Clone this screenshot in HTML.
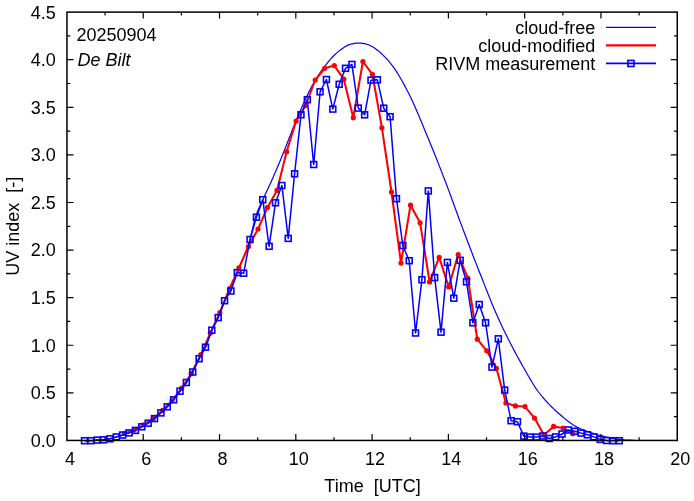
<!DOCTYPE html>
<html><head><meta charset="utf-8"><title>UV index</title>
<style>html,body{margin:0;padding:0;background:#fff}svg{display:block}text{font-family:"Liberation Sans",Arial,Helvetica,sans-serif;fill:#000}</style></head><body>
<svg width="694" height="501" viewBox="0 0 694 501">
<rect width="694" height="501" fill="#fff"/>
<g font-size="18" text-anchor="end">
<text x="55.9" y="446.85">0.0</text>
<text x="55.9" y="399.26">0.5</text>
<text x="55.9" y="351.66">1.0</text>
<text x="55.9" y="304.07">1.5</text>
<text x="55.9" y="256.47">2.0</text>
<text x="55.9" y="208.88">2.5</text>
<text x="55.9" y="161.28">3.0</text>
<text x="55.9" y="113.69">3.5</text>
<text x="55.9" y="66.09">4.0</text>
<text x="55.9" y="18.50">4.5</text>
</g>
<g font-size="18" text-anchor="middle">
<text x="69.95" y="465">4</text>
<text x="146.24" y="465">6</text>
<text x="222.52" y="465">8</text>
<text x="298.81" y="465">10</text>
<text x="375.10" y="465">12</text>
<text x="451.39" y="465">14</text>
<text x="527.67" y="465">16</text>
<text x="603.96" y="465">18</text>
<text x="680.25" y="465">20</text>
</g>
<text x="76.4" y="40.6" font-size="18">20250904</text>
<text x="77.4" y="65.6" font-size="18" font-style="italic">De Bilt</text>
<text x="372.5" y="491.7" font-size="18" text-anchor="middle" xml:space="preserve">Time  [UTC]</text>
<text transform="translate(18.6,226.2) rotate(-90)" font-size="18" text-anchor="middle" xml:space="preserve">UV index  [-]</text>
<g font-size="18" text-anchor="end">
<text x="595.3" y="33.7">cloud-free</text>
<text x="595.3" y="51.7">cloud-modified</text>
<text x="595.3" y="69.7">RIVM measurement</text>
</g>
<path d="M606 27.4H656" stroke="#0000ff" stroke-width="1.1" fill="none"/>
<path d="M606 45.4H656" stroke="#ff0000" stroke-width="2.1" fill="none"/>
<path d="M606 63.4H656" stroke="#0000ff" stroke-width="1.6" fill="none"/>
<rect x="627.9" y="60.4" width="6.1" height="6.1" stroke="#0000ff" stroke-width="1.6" fill="none"/>
<path d="M84.5 440.7 L86.5 440.7 L88.5 440.7 L90.5 440.7 L92.5 440.6 L94.5 440.4 L96.5 440.2 L98.5 440.0 L100.5 440.0 L102.5 439.9 L104.5 439.7 L106.5 439.5 L108.5 439.1 L110.5 438.7 L112.5 438.1 L114.5 437.5 L116.5 436.9 L118.5 436.3 L120.5 435.7 L122.5 435.1 L124.5 434.4 L126.5 433.8 L128.5 433.1 L130.5 432.4 L132.5 431.6 L134.5 430.8 L136.5 429.9 L138.5 428.8 L140.5 427.6 L142.5 426.4 L144.5 425.3 L146.5 424.2 L148.5 423.0 L150.5 421.6 L152.5 420.2 L154.5 418.6 L156.5 416.9 L158.5 415.1 L160.5 413.3 L162.5 411.4 L164.5 409.5 L166.5 407.6 L168.5 405.5 L170.5 403.4 L172.5 401.1 L174.5 398.7 L176.5 396.1 L178.5 393.3 L180.5 390.5 L182.5 387.9 L184.5 385.2 L186.5 382.3 L188.5 379.2 L190.5 375.9 L192.5 372.4 L194.5 368.5 L196.5 364.1 L198.5 359.9 L200.5 356.1 L202.5 352.8 L204.5 349.2 L206.5 344.8 L208.5 339.2 L210.5 333.5 L212.5 328.7 L214.5 324.8 L216.5 321.1 L218.5 316.9 L220.5 311.7 L222.5 306.2 L224.5 300.9 L226.5 296.2 L228.5 291.7 L230.5 287.5 L232.5 283.3 L234.5 279.0 L236.5 274.5 L238.5 269.8 L240.5 265.1 L242.5 260.3 L244.5 255.3 L246.5 250.0 L248.5 244.2 L250.5 237.7 L252.5 229.1 L254.5 220.3 L256.5 214.0 L258.5 209.1 L260.5 204.7 L262.5 200.4 L264.5 196.0 L266.5 191.7 L268.5 187.5 L270.5 183.2 L272.5 178.7 L274.5 174.1 L276.5 169.4 L278.5 164.7 L280.5 159.9 L282.5 155.0 L284.5 150.1 L286.5 145.0 L288.5 139.8 L290.5 134.6 L292.5 129.4 L294.5 124.4 L296.5 119.6 L298.5 114.9 L300.5 110.3 L302.5 105.7 L304.5 101.2 L306.5 96.9 L308.5 92.7 L310.5 88.7 L312.5 85.0 L314.5 81.6 L316.5 78.3 L318.5 75.2 L320.5 72.2 L322.5 69.4 L324.5 66.7 L326.5 64.1 L328.5 61.6 L330.5 59.2 L332.5 57.0 L334.5 55.0 L336.5 53.1 L338.5 51.4 L340.5 49.8 L342.5 48.4 L344.5 47.1 L346.5 45.9 L348.5 44.9 L350.5 44.2 L352.5 43.8 L354.5 43.4 L356.5 43.1 L358.5 43.0 L360.5 43.1 L362.5 43.3 L364.5 43.7 L366.5 44.2 L368.5 44.8 L370.5 45.7 L372.5 46.8 L374.5 48.0 L376.5 49.4 L378.5 50.9 L380.5 52.7 L382.5 54.6 L384.5 56.6 L386.5 58.7 L388.5 60.9 L390.5 63.3 L392.5 65.8 L394.5 68.6 L396.5 71.6 L398.5 74.8 L400.5 78.2 L402.5 81.7 L404.5 85.4 L406.5 89.2 L408.5 93.1 L410.5 97.1 L412.5 101.3 L414.5 105.7 L416.5 110.2 L418.5 114.9 L420.5 119.7 L422.5 124.5 L424.5 129.4 L426.5 134.2 L428.5 139.0 L430.5 143.9 L432.5 148.8 L434.5 153.8 L436.5 158.8 L438.5 163.9 L440.5 169.0 L442.5 174.1 L444.5 179.3 L446.5 184.5 L448.5 189.9 L450.5 195.3 L452.5 200.8 L454.5 206.2 L456.5 211.7 L458.5 217.2 L460.5 222.6 L462.5 227.9 L464.5 233.2 L466.5 238.5 L468.5 243.8 L470.5 249.0 L472.5 254.3 L474.5 259.5 L476.5 264.6 L478.5 269.7 L480.5 274.8 L482.5 279.8 L484.5 284.9 L486.5 290.0 L488.5 295.0 L490.5 300.0 L492.5 304.9 L494.5 309.7 L496.5 314.3 L498.5 318.8 L500.5 323.1 L502.5 327.4 L504.5 331.5 L506.5 335.6 L508.5 339.6 L510.5 343.5 L512.5 347.3 L514.5 351.1 L516.5 354.8 L518.5 358.5 L520.5 362.1 L522.5 365.7 L524.5 369.2 L526.5 372.7 L528.5 376.2 L530.5 379.6 L532.5 383.0 L534.5 386.2 L536.5 389.3 L538.5 392.0 L540.5 394.5 L542.5 397.0 L544.5 399.3 L546.5 401.5 L548.5 403.7 L550.5 405.8 L552.5 407.7 L554.5 409.7 L556.5 411.5 L558.5 413.3 L560.5 415.0 L562.5 416.7 L564.5 418.4 L566.5 420.0 L568.5 421.6 L570.5 423.1 L572.5 424.5 L574.5 425.7 L576.5 426.9 L578.5 427.9 L580.5 428.8 L582.5 429.6 L584.5 430.4 L586.5 431.1 L588.5 431.8 L590.5 432.5 L592.5 433.1 L594.5 433.8 L596.5 434.4 L598.5 435.0 L600.5 435.6 L602.5 436.1 L604.5 436.7 L606.5 437.2 L608.5 437.6 L610.5 438.1 L612.5 438.5 L614.5 438.9 L616.5 439.2 L618.5 439.4 L620.5 439.6 L622.5 439.7 L624.5 439.9 L626.5 440.0 L628.5 440.1 L630.5 440.2 L632.5 440.3 L634.5 440.3" stroke="#0000ff" stroke-width="1.2" fill="none" stroke-linejoin="round"/>
<path d="M124.5 433.4 L134.0 430.0 L143.5 424.8 L153.1 418.7 L162.6 410.3 L172.1 400.6 L181.7 388.0 L191.2 373.7 L200.8 354.7 L210.3 333.1 L219.8 312.6 L229.4 288.9 L238.9 267.8 L248.4 246.5 L258.0 229.0 L267.5 207.4 L277.0 190.4 L286.6 151.8 L296.1 121.0 L305.6 105.5 L315.2 80.0 L324.7 68.3 L334.3 65.6 L343.8 79.2 L353.3 117.7 L362.9 61.5 L372.4 74.3 L381.9 127.8 L391.5 192.0 L401.0 263.1 L410.5 205.2 L420.1 222.8 L429.6 281.9 L439.2 257.4 L448.7 286.9 L458.2 254.5 L467.8 278.2 L477.3 339.2 L486.8 350.8 L496.4 368.3 L505.9 403.0 L515.4 405.9 L525.0 406.6 L534.5 418.1 L544.0 434.9 L553.6 426.4 L563.1 428.1 L572.7 433.7" stroke="#ff0000" stroke-width="2.05" fill="none" stroke-linejoin="round"/>
<g fill="#ff0000"><circle cx="124.5" cy="433.4" r="2.6"/><circle cx="134.0" cy="430.0" r="2.6"/><circle cx="143.5" cy="424.8" r="2.6"/><circle cx="153.1" cy="418.7" r="2.6"/><circle cx="162.6" cy="410.3" r="2.6"/><circle cx="172.1" cy="400.6" r="2.6"/><circle cx="181.7" cy="388.0" r="2.6"/><circle cx="191.2" cy="373.7" r="2.6"/><circle cx="200.8" cy="354.7" r="2.6"/><circle cx="210.3" cy="333.1" r="2.6"/><circle cx="219.8" cy="312.6" r="2.6"/><circle cx="229.4" cy="288.9" r="2.6"/><circle cx="238.9" cy="267.8" r="2.6"/><circle cx="248.4" cy="246.5" r="2.6"/><circle cx="258.0" cy="229.0" r="2.6"/><circle cx="267.5" cy="207.4" r="2.6"/><circle cx="277.0" cy="190.4" r="2.6"/><circle cx="286.6" cy="151.8" r="2.6"/><circle cx="296.1" cy="121.0" r="2.6"/><circle cx="305.6" cy="105.5" r="2.6"/><circle cx="315.2" cy="80.0" r="2.6"/><circle cx="324.7" cy="68.3" r="2.6"/><circle cx="334.3" cy="65.6" r="2.6"/><circle cx="343.8" cy="79.2" r="2.6"/><circle cx="353.3" cy="117.7" r="2.6"/><circle cx="362.9" cy="61.5" r="2.6"/><circle cx="372.4" cy="74.3" r="2.6"/><circle cx="381.9" cy="127.8" r="2.6"/><circle cx="391.5" cy="192.0" r="2.6"/><circle cx="401.0" cy="263.1" r="2.6"/><circle cx="410.5" cy="205.2" r="2.6"/><circle cx="420.1" cy="222.8" r="2.6"/><circle cx="429.6" cy="281.9" r="2.6"/><circle cx="439.2" cy="257.4" r="2.6"/><circle cx="448.7" cy="286.9" r="2.6"/><circle cx="458.2" cy="254.5" r="2.6"/><circle cx="467.8" cy="278.2" r="2.6"/><circle cx="477.3" cy="339.2" r="2.6"/><circle cx="486.8" cy="350.8" r="2.6"/><circle cx="496.4" cy="368.3" r="2.6"/><circle cx="505.9" cy="403.0" r="2.6"/><circle cx="515.4" cy="405.9" r="2.6"/><circle cx="525.0" cy="406.6" r="2.6"/><circle cx="534.5" cy="418.1" r="2.6"/><circle cx="544.0" cy="434.9" r="2.6"/><circle cx="553.6" cy="426.4" r="2.6"/><circle cx="563.1" cy="428.1" r="2.6"/><circle cx="572.7" cy="433.7" r="2.6"/></g>
<path d="M84.5 440.7 L90.9 440.7 L97.2 440.1 L103.6 439.8 L110.0 438.8 L116.3 436.9 L122.7 435.0 L129.1 432.9 L135.4 430.4 L141.8 426.8 L148.2 423.2 L154.5 418.6 L160.9 412.9 L167.3 406.8 L173.6 399.8 L180.0 391.2 L186.4 382.5 L192.7 372.0 L199.1 358.7 L205.5 347.2 L211.8 330.2 L218.2 317.6 L224.6 300.7 L230.9 291.0 L237.3 272.6 L243.7 273.2 L250.0 239.5 L256.4 217.2 L262.8 199.7 L269.1 246.3 L275.5 202.8 L281.9 185.5 L288.2 238.4 L294.6 173.8 L301.0 114.8 L307.3 99.7 L313.7 164.5 L320.1 91.8 L326.4 79.5 L332.8 109.1 L339.2 84.3 L345.5 68.3 L351.9 64.4 L358.3 108.1 L364.6 114.8 L371.0 80.2 L377.4 79.8 L383.7 108.2 L390.1 116.7 L396.5 198.7 L402.8 245.5 L409.2 260.7 L415.6 333.0 L421.9 279.7 L428.3 190.9 L434.7 277.6 L441.0 332.2 L447.4 262.4 L453.8 298.2 L460.1 260.3 L466.5 281.8 L472.9 322.8 L479.2 304.5 L485.6 322.8 L492.0 367.1 L498.3 338.8 L504.7 390.1 L511.1 420.7 L517.4 421.7 L523.8 436.1 L530.2 437.1 L536.5 437.1 L542.9 436.0 L549.3 438.5 L555.6 436.9 L562.0 434.0 L568.4 430.0 L574.7 431.3 L581.1 433.1 L587.5 434.8 L593.8 436.9 L600.2 439.4 L606.6 440.5 L612.9 440.7 L619.3 440.7" stroke="#0000ff" stroke-width="1.5" fill="none" stroke-linejoin="round"/>
<g fill="none" stroke="#0000ff" stroke-width="1.6"><rect x="81.55" y="437.75" width="5.9" height="5.9"/><rect x="87.92" y="437.75" width="5.9" height="5.9"/><rect x="94.28" y="437.15" width="5.9" height="5.9"/><rect x="100.65" y="436.85" width="5.9" height="5.9"/><rect x="107.02" y="435.85" width="5.9" height="5.9"/><rect x="113.38" y="433.95" width="5.9" height="5.9"/><rect x="119.75" y="432.05" width="5.9" height="5.9"/><rect x="126.12" y="429.95" width="5.9" height="5.9"/><rect x="132.48" y="427.45" width="5.9" height="5.9"/><rect x="138.85" y="423.85" width="5.9" height="5.9"/><rect x="145.22" y="420.25" width="5.9" height="5.9"/><rect x="151.58" y="415.65" width="5.9" height="5.9"/><rect x="157.95" y="409.95" width="5.9" height="5.9"/><rect x="164.32" y="403.85" width="5.9" height="5.9"/><rect x="170.68" y="396.85" width="5.9" height="5.9"/><rect x="177.05" y="388.25" width="5.9" height="5.9"/><rect x="183.42" y="379.55" width="5.9" height="5.9"/><rect x="189.78" y="369.05" width="5.9" height="5.9"/><rect x="196.15" y="355.75" width="5.9" height="5.9"/><rect x="202.52" y="344.25" width="5.9" height="5.9"/><rect x="208.88" y="327.25" width="5.9" height="5.9"/><rect x="215.25" y="314.65" width="5.9" height="5.9"/><rect x="221.62" y="297.75" width="5.9" height="5.9"/><rect x="227.98" y="288.05" width="5.9" height="5.9"/><rect x="234.35" y="269.65" width="5.9" height="5.9"/><rect x="240.72" y="270.25" width="5.9" height="5.9"/><rect x="247.08" y="236.55" width="5.9" height="5.9"/><rect x="253.45" y="214.25" width="5.9" height="5.9"/><rect x="259.82" y="196.75" width="5.9" height="5.9"/><rect x="266.18" y="243.35" width="5.9" height="5.9"/><rect x="272.55" y="199.85" width="5.9" height="5.9"/><rect x="278.92" y="182.55" width="5.9" height="5.9"/><rect x="285.28" y="235.45" width="5.9" height="5.9"/><rect x="291.65" y="170.85" width="5.9" height="5.9"/><rect x="298.02" y="111.85" width="5.9" height="5.9"/><rect x="304.38" y="96.75" width="5.9" height="5.9"/><rect x="310.75" y="161.55" width="5.9" height="5.9"/><rect x="317.12" y="88.85" width="5.9" height="5.9"/><rect x="323.48" y="76.55" width="5.9" height="5.9"/><rect x="329.85" y="106.15" width="5.9" height="5.9"/><rect x="336.22" y="81.35" width="5.9" height="5.9"/><rect x="342.58" y="65.35" width="5.9" height="5.9"/><rect x="348.95" y="61.45" width="5.9" height="5.9"/><rect x="355.32" y="105.15" width="5.9" height="5.9"/><rect x="361.68" y="111.85" width="5.9" height="5.9"/><rect x="368.05" y="77.25" width="5.9" height="5.9"/><rect x="374.42" y="76.85" width="5.9" height="5.9"/><rect x="380.78" y="105.25" width="5.9" height="5.9"/><rect x="387.15" y="113.75" width="5.9" height="5.9"/><rect x="393.52" y="195.75" width="5.9" height="5.9"/><rect x="399.88" y="242.55" width="5.9" height="5.9"/><rect x="406.25" y="257.75" width="5.9" height="5.9"/><rect x="412.62" y="330.05" width="5.9" height="5.9"/><rect x="418.99" y="276.75" width="5.9" height="5.9"/><rect x="425.35" y="187.95" width="5.9" height="5.9"/><rect x="431.72" y="274.65" width="5.9" height="5.9"/><rect x="438.09" y="329.25" width="5.9" height="5.9"/><rect x="444.45" y="259.45" width="5.9" height="5.9"/><rect x="450.82" y="295.25" width="5.9" height="5.9"/><rect x="457.19" y="257.35" width="5.9" height="5.9"/><rect x="463.55" y="278.85" width="5.9" height="5.9"/><rect x="469.92" y="319.85" width="5.9" height="5.9"/><rect x="476.29" y="301.55" width="5.9" height="5.9"/><rect x="482.65" y="319.85" width="5.9" height="5.9"/><rect x="489.02" y="364.15" width="5.9" height="5.9"/><rect x="495.39" y="335.85" width="5.9" height="5.9"/><rect x="501.75" y="387.15" width="5.9" height="5.9"/><rect x="508.12" y="417.75" width="5.9" height="5.9"/><rect x="514.49" y="418.75" width="5.9" height="5.9"/><rect x="520.85" y="433.15" width="5.9" height="5.9"/><rect x="527.22" y="434.15" width="5.9" height="5.9"/><rect x="533.59" y="434.15" width="5.9" height="5.9"/><rect x="539.95" y="433.05" width="5.9" height="5.9"/><rect x="546.32" y="435.55" width="5.9" height="5.9"/><rect x="552.69" y="433.95" width="5.9" height="5.9"/><rect x="559.05" y="431.05" width="5.9" height="5.9"/><rect x="565.42" y="427.05" width="5.9" height="5.9"/><rect x="571.79" y="428.35" width="5.9" height="5.9"/><rect x="578.15" y="430.15" width="5.9" height="5.9"/><rect x="584.52" y="431.85" width="5.9" height="5.9"/><rect x="590.89" y="433.95" width="5.9" height="5.9"/><rect x="597.25" y="436.45" width="5.9" height="5.9"/><rect x="603.62" y="437.55" width="5.9" height="5.9"/><rect x="609.99" y="437.75" width="5.9" height="5.9"/><rect x="616.35" y="437.75" width="5.9" height="5.9"/></g>
<path d="M66.95 392.86h6.5M677.25 392.86h-6.5M66.95 345.26h6.5M677.25 345.26h-6.5M66.95 297.67h6.5M677.25 297.67h-6.5M66.95 250.07h6.5M677.25 250.07h-6.5M66.95 202.48h6.5M677.25 202.48h-6.5M66.95 154.88h6.5M677.25 154.88h-6.5M66.95 107.29h6.5M677.25 107.29h-6.5M66.95 59.69h6.5M677.25 59.69h-6.5M66.95 416.65h3.3M677.25 416.65h-3.3M66.95 369.06h3.3M677.25 369.06h-3.3M66.95 321.46h3.3M677.25 321.46h-3.3M66.95 273.87h3.3M677.25 273.87h-3.3M66.95 226.28h3.3M677.25 226.28h-3.3M66.95 178.68h3.3M677.25 178.68h-3.3M66.95 131.09h3.3M677.25 131.09h-3.3M66.95 83.49h3.3M677.25 83.49h-3.3M66.95 35.90h3.3M677.25 35.90h-3.3M143.24 440.45v-6.5M143.24 12.1v6.5M219.52 440.45v-6.5M219.52 12.1v6.5M295.81 440.45v-6.5M295.81 12.1v6.5M372.10 440.45v-6.5M372.10 12.1v6.5M448.39 440.45v-6.5M448.39 12.1v6.5M524.67 440.45v-6.5M524.67 12.1v6.5M600.96 440.45v-6.5M600.96 12.1v6.5M105.09 440.45v-3.3M105.09 12.1v3.3M181.38 440.45v-3.3M181.38 12.1v3.3M257.67 440.45v-3.3M257.67 12.1v3.3M333.96 440.45v-3.3M333.96 12.1v3.3M410.24 440.45v-3.3M410.24 12.1v3.3M486.53 440.45v-3.3M486.53 12.1v3.3M562.82 440.45v-3.3M562.82 12.1v3.3M639.11 440.45v-3.3M639.11 12.1v3.3" stroke="#000" stroke-width="1.2" fill="none"/>
<rect x="66.95" y="12.1" width="610.30" height="428.35" fill="none" stroke="#000" stroke-width="1.5"/>
</svg>
</body></html>
